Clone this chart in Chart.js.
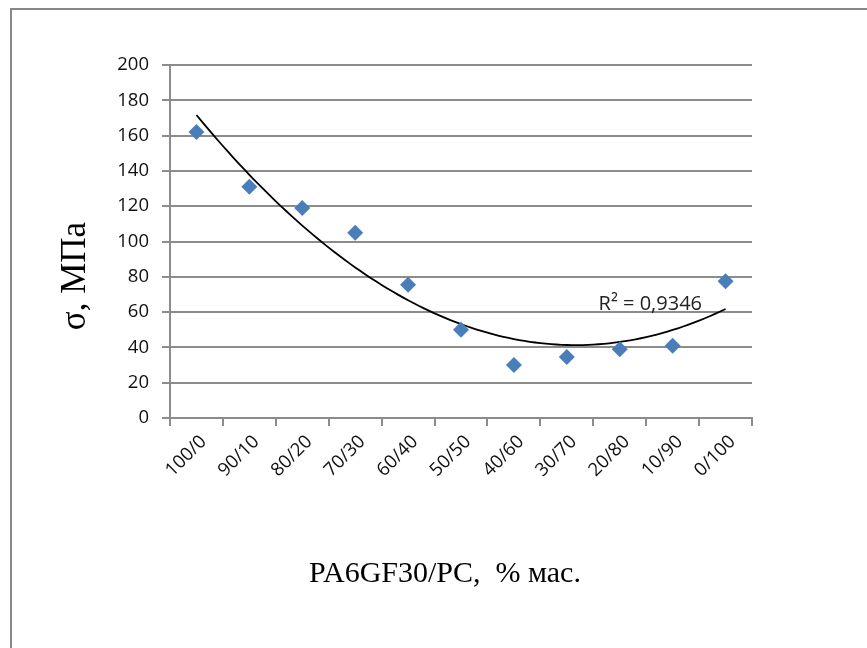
<!DOCTYPE html>
<html>
<head>
<meta charset="utf-8">
<script src="https://cdn.jsdelivr.net/npm/chart.js@4.4.1/dist/chart.umd.min.js"></script>
<style>
  html, body { margin: 0; padding: 0; background: #fff; }
  #wrap { width: 867px; height: 648px; }
</style>
</head>
<body>
<div id="wrap"><canvas id="sigma-canvas" width="867" height="648"></canvas></div>
<script>
// composition PA6GF30/PC, % mass
const categories = ['100/0', '90/10', '80/20', '70/30', '60/40', '50/50', '40/60', '30/70', '20/80', '10/90', '0/100'];
// tensile strength, MPa
const sigmaValues = [162, 131, 119, 105, 75.5, 50, 30, 34.5, 39, 41, 77.5];
const yTicks = [0, 20, 40, 60, 80, 100, 120, 140, 160, 180, 200];
const r2Label = 'R² = 0,9346';

// quadratic least squares, same as the spreadsheet's polynomial trendline
function polyFit2(xs, ys){
    let s = [0, 0, 0, 0, 0], t = [0, 0, 0];
    for(let i = 0; i < xs.length; i++){
        let p = 1;
        for(let k = 0; k < 5; k++){ s[k] += p; if(k < 3) t[k] += p * ys[i]; p *= xs[i]; }
    }
    let m = [[s[0], s[1], s[2], t[0]], [s[1], s[2], s[3], t[1]], [s[2], s[3], s[4], t[2]]];
    for(let c = 0; c < 3; c++){
        for(let r = c + 1; r < 3; r++){
            let f = m[r][c] / m[c][c];
            for(let k = c; k < 4; k++) m[r][k] -= f * m[c][k];
        }
    }
    let a = [0, 0, 0];
    for(let r = 2; r >= 0; r--){
        let v = m[r][3];
        for(let k = r + 1; k < 3; k++) v -= m[r][k] * a[k];
        a[r] = v / m[r][r];
    }
    return a;
}

let xs = sigmaValues.map((v, i) => i + 1);
let coef = polyFit2(xs, sigmaValues);
let trend = [];
for(let x = 1; x <= categories.length + 1e-9; x += 0.1){
    trend.push({x: x, y: coef[0] + coef[1] * x + coef[2] * x * x});
}

const gridGrey = '#8c8c8c';
const tickFont = {family: 'Open Sans', size: 18.5};

const framePlugin = {
    id: 'frame',
    beforeDraw(chart){
        let ctx = chart.ctx;
        ctx.save();
        ctx.fillStyle = '#fff';
        ctx.fillRect(0, 0, chart.width, chart.height);
        ctx.strokeStyle = '#888';
        ctx.lineWidth = 2;
        ctx.strokeRect(11, 9, 1000, 1000);
        ctx.restore();
    },
    afterDraw(chart){
        let ctx = chart.ctx;
        let sx = chart.scales.x, sy = chart.scales.y;
        ctx.save();
        ctx.fillStyle = '#222';
        ctx.font = '20px "Open Sans"';
        ctx.textBaseline = 'alphabetic';
        ctx.fillText(r2Label, sx.getPixelForValue(8.6), sy.getPixelForValue(61));
        ctx.fillStyle = '#000';
        ctx.font = '30px "Liberation Serif"';
        ctx.textAlign = 'center';
        ctx.textBaseline = 'middle';
        ctx.fillText('PA6GF30/PC,  % мас.', 445, 574);
        ctx.translate(76, 276);
        ctx.rotate(-Math.PI / 2);
        ctx.font = '35px "Liberation Serif"';
        ctx.fillText('σ, МПа', 0, 0);
        ctx.restore();
    }
};

let ctx = document.getElementById('sigma-canvas').getContext('2d');
new Chart(ctx, {
    type: 'scatter',
    data: {
        datasets: [{
            label: 'σ',
            data: sigmaValues.map((v, i) => ({x: i + 1, y: v})),
            xAxisID: 'x',
            pointStyle: 'rectRot',
            pointRadius: 8,
            pointBackgroundColor: '#4a7ebb',
            pointBorderColor: '#4a7ebb',
            pointBorderWidth: 0,
            showLine: false,
            order: 1
        }, {
            label: 'trend',
            data: trend,
            xAxisID: 'x',
            showLine: true,
            borderColor: '#000',
            borderWidth: 1.8,
            pointRadius: 0,
            tension: 0,
            order: 2
        }]
    },
    plugins: [framePlugin],
    options: {
        responsive: false,
        animation: false,
        layout: {padding: {left: 0, top: 65, right: 115, bottom: 0}},
        plugins: {legend: {display: false}, tooltip: {enabled: false}},
        scales: {
            x: {
                type: 'linear',
                display: false,
                min: 0.5,
                max: categories.length + 0.5
            },
            xc: {
                type: 'category',
                labels: categories,
                position: 'bottom',
                offset: true,
                afterFit(s){ s.height = 230; },
                grid: {display: true, offset: true, drawOnChartArea: false, color: gridGrey, lineWidth: 2, tickLength: 8},
                border: {color: gridGrey, width: 2},
                ticks: {font: tickFont, color: '#111', maxRotation: 45, minRotation: 45, padding: 5, labelOffset: 7, autoSkip: false}
            },
            y: {
                min: 0,
                max: 200,
                afterFit(s){ s.width = 170; },
                afterBuildTicks(s){ s.ticks = yTicks.map(v => ({value: v})); },
                grid: {color: gridGrey, lineWidth: 2, tickLength: 8},
                border: {color: gridGrey, width: 2},
                ticks: {font: tickFont, color: '#111', padding: 13}
            }
        }
    }
});
</script>
</body>
</html>
